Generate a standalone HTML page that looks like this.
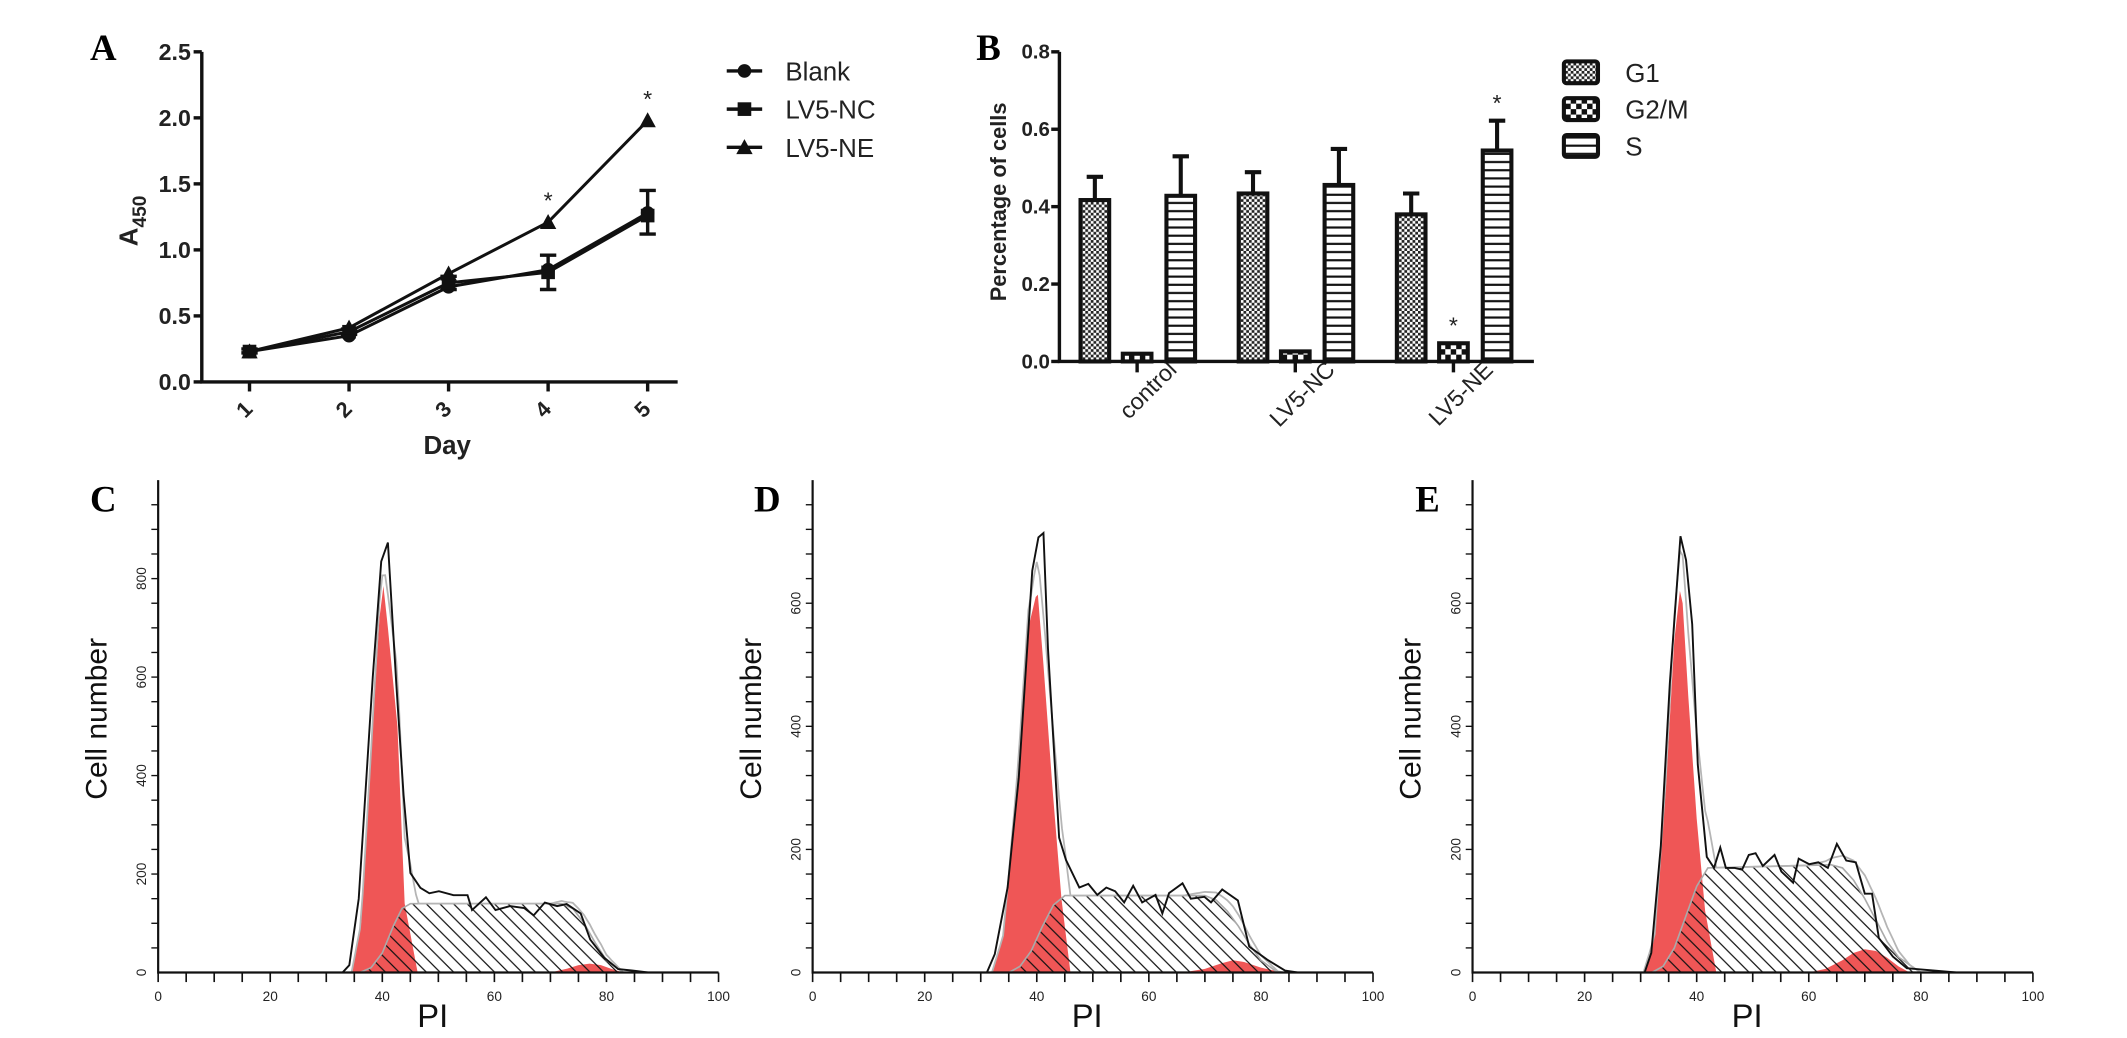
<!DOCTYPE html>
<html><head><meta charset="utf-8"><style>
html,body{margin:0;padding:0;background:#fff}
svg{display:block}
text{font-family:"Liberation Sans",Arial,sans-serif}
.pl{font-family:"Liberation Serif",serif;font-weight:bold;font-size:27px}
</style></head><body>
<svg id="fig" xmlns="http://www.w3.org/2000/svg" width="2127" height="1038" viewBox="0 0 1560 761" preserveAspectRatio="none">
<defs>
<pattern id="pG1" width="4" height="4" patternUnits="userSpaceOnUse"><rect width="4" height="4" fill="#fff"/><rect width="2" height="2" fill="#222"/><rect x="2" y="2" width="2" height="2" fill="#222"/></pattern>
<pattern id="pG2" width="8" height="8" patternUnits="userSpaceOnUse"><rect width="8" height="8" fill="#fff"/><rect width="4" height="4" fill="#111"/><rect x="4" y="4" width="4" height="4" fill="#111"/></pattern>
<pattern id="pS" width="6" height="6" patternUnits="userSpaceOnUse"><rect width="6" height="6" fill="#fff"/><rect y="4" width="6" height="1.6" fill="#111"/></pattern>
<pattern id="hatch" width="10" height="10" patternUnits="userSpaceOnUse"><path d="M-2,-2 L12,12 M-2,8 L2,12 M8,-2 L12,2" stroke="#111" stroke-width="0.9"/></pattern>
</defs>
<text class="pl" x="66" y="44">A</text>
<text class="pl" x="716" y="44">B</text>
<text class="pl" x="66" y="375">C</text>
<text class="pl" x="553" y="375">D</text>
<text class="pl" x="1038" y="375">E</text>
<g id="pa"></g>
<g id="pb"></g>
<g id="pc"></g>
<g id="pd"></g>
<g id="pe"></g>
</svg>
<script>
// ---- Panel A data ----
const days = [1,2,3,4,5];
const aTicks = ["0.0","0.5","1.0","1.5","2.0","2.5"];
const blank = [0.23,0.35,0.72,0.85,1.28];
const lv5nc = [0.23,0.38,0.75,0.83,1.26];
const lv5ne = [0.23,0.41,0.82,1.21,1.98];
const ncErrLo = [0.22,0.36,0.70,0.70,1.12];
const ncErrHi = [0.25,0.40,0.80,0.96,1.45];
const aStars = [4,5];
// ---- Panel B data ----
const groups = ["control","LV5-NC","LV5-NE"];
const phases = ["G1","G2/M","S"];
const g1Vals = [0.417,0.434,0.380];
const g2Vals = [0.020,0.026,0.047];
const sVals = [0.428,0.456,0.545];
const g1Err = [0.477,0.489,0.434];
const g2Err = [0.020,0.026,0.047];
const sErr = [0.530,0.549,0.622];
const bTicks = ["0.0","0.2","0.4","0.6","0.8"];
// ---- Panel C data ----
const cHistX = [0,32.9,34.1,35.8,38.3,39.8,41,42.5,43.8,45,46.8,48.4,50.1,52.7,55.2,56,58.5,60.2,62.8,65.3,67,69,71.2,72.9,75.4,77.1,79.6,82.1,84.7,87.6,100];
const cHistY = [0,0,15,150,600,835,873,584,360,202,172,161,165,157,157,127,153,127,135,131,116,142,135,139,120,67,30,7,4,0,0];
const cG1X = [34.5,36.2,38.3,39.5,40.2,41,42.7,44,46.3];
const cG1Y = [0,100,500,720,785,700,500,140,0];
const cSX = [36,38,40,42,43.5,45,72,74,76,78,80,83];
const cSY = [0,10,40,95,130,140,140,130,100,60,25,0];
const cG2X = [70,73,75,77,79,81,83];
const cG2Y = [0,8,15,18,15,7,0];
// ---- Panel D data ----
const dHistX = [0,31.1,32.5,34.8,36.8,39.2,40.3,41.2,42,44,45.2,47.6,49.2,50.8,52.4,54,55.6,57.2,58.8,61.2,62.4,63.6,66,67.5,69.9,71.1,73.1,75.9,77.9,81.1,84.3,86.7,100];
const dHistY = [0,0,30,138,317,653,707,714,527,219,183,138,144,126,138,132,114,141,114,126,96,129,145,120,123,114,135,117,42,21,3,0,0];
const dG1X = [32,34,36.4,38.5,39.8,40.2,41.2,42.8,44.4,46];
const dG1Y = [0,60,300,560,610,614,500,300,120,0];
const dSX = [35,37,39,41,43,45,70,72,74,76,78,80,83];
const dSY = [0,10,35,75,110,125,125,118,100,75,45,20,0];
const dG2X = [66,70,73,75,77,80,84];
const dG2Y = [0,6,15,20,17,8,0];
// ---- Panel E data ----
const eHistX = [0,30.7,31.9,33.6,35.2,37.1,38.1,39.2,40.2,41.8,43.1,44.2,45.2,46.8,48.1,49.3,50.5,51.8,53.9,55.1,57.2,58.2,60.1,61.7,63.4,65,66.7,68.4,70,71.3,72.5,75,77.5,80,82.4,86.6,100];
const eHistY = [0,0,32,206,470,709,670,566,338,188,170,203,170,170,167,191,194,173,191,164,146,185,176,179,170,209,182,179,128,128,56,26,7,5,3,0,0];
const eG1X = [30.5,32.5,34.5,36,37,37.5,38.5,40,41.5,43.5];
const eG1Y = [0,60,300,540,620,600,450,250,100,0];
const eSX = [32,34,36,38,40,42,64,66,68,70,72,74,76,80];
const eSY = [0,10,40,90,140,170,175,170,150,120,85,50,25,0];
const eG2X = [60,63,66,68,70,72,74,76,78];
const eG2Y = [0,6,20,32,38,35,24,10,0];
const histXTicks = ["0","20","40","60","80","100"];
const cYTicks = ["0","200","400","600","800"];
const deYTicks = ["0","200","400","600"];

const NS="http://www.w3.org/2000/svg";
function mk(parent, tag, attrs, txt){
  const e=document.createElementNS(NS,tag);
  for(const k in attrs) e.setAttribute(k,attrs[k]);
  if(txt!==undefined) e.textContent=txt;
  parent.appendChild(e); return e;
}

// ================= Panel A =================
(function(){
  const g=document.getElementById('pa');
  const xA=d=>183+(d-1)*73, yA=v=>280-v*96.8;
  let ax=mk(g,'path',{d:`M148,${yA(2.5)} L148,280 L497,280`,fill:'none',stroke:'#111','stroke-width':2.5});
   
  aTicks.forEach((t,i)=>{
    const v=parseFloat(t);
    mk(g,'line',{x1:142,x2:148,y1:yA(v),y2:yA(v),stroke:'#111','stroke-width':2.5});
    const tx=mk(g,'text',{x:140,y:yA(v)+6,'text-anchor':'end','font-size':17,'font-weight':'bold',fill:'#222'},t);
     
  });
  days.forEach(d=>{
    mk(g,'line',{x1:xA(d),x2:xA(d),y1:280,y2:287,stroke:'#111','stroke-width':2.5});
    const tx=mk(g,'text',{x:0,y:0,'text-anchor':'middle','font-size':16,'font-weight':'bold',fill:'#222',transform:`translate(${xA(d)},${304}) rotate(-45)`},String(d));
     
  });
  const xt=mk(g,'text',{x:328,y:333,'text-anchor':'middle','font-size':19,'font-weight':'bold',fill:'#222'},'Day');
   
  const yt=mk(g,'text',{x:0,y:0,'text-anchor':'middle','font-size':19,'font-weight':'bold',fill:'#222',transform:'translate(101,162) rotate(-90)'});
   
  mk(yt,'tspan',{},'A');
  mk(yt,'tspan',{'font-size':14,dy:6},'450');
  days.forEach((d,i)=>{
    const e=mk(g,'path',{d:`M${xA(d)},${yA(ncErrLo[i])} L${xA(d)},${yA(ncErrHi[i])} M${xA(d)-6},${yA(ncErrLo[i])} L${xA(d)+6},${yA(ncErrLo[i])} M${xA(d)-6},${yA(ncErrHi[i])} L${xA(d)+6},${yA(ncErrHi[i])}`,stroke:'#111','stroke-width':2.5,fill:'none'});
     
  });
  function marker(parent,type,x,y){
    if(type==='c') return mk(parent,'circle',{cx:x,cy:y,r:5,fill:'#111'});
    if(type==='s') return mk(parent,'rect',{x:x-5,y:y-5,width:10,height:10,fill:'#111'});
    return mk(parent,'path',{d:`M${x},${y-6} L${x+6},${y+5} L${x-6},${y+5} Z`,fill:'#111'});
  }
  const series=[[blank,'c','blank-line'],[lv5nc,'s','lv5-nc-line'],[lv5ne,'t','lv5-ne-line']];
  series.forEach(([vals,type,name])=>{
    const p=mk(g,'polyline',{points:vals.map((v,i)=>xA(days[i])+','+yA(v)).join(' '),fill:'none',stroke:'#111','stroke-width':2.2});
     
    vals.forEach((v,i)=>{const m=marker(g,type,xA(days[i]),yA(v));
       });
  });
  aStars.forEach(d=>{
    const i=days.indexOf(d);
    const s=mk(g,'text',{x:xA(d),y:yA(lv5ne[i])-10,'text-anchor':'middle','font-size':17,fill:'#222'},'*');
     
  });
  const leg=[['Blank','c'],['LV5-NC','s'],['LV5-NE','t']];
  leg.forEach(([lab,type],i)=>{
    const y=52+i*28;
    const lg=mk(g,'g',{});
     
    mk(lg,'line',{x1:533,x2:559,y1:y,y2:y,stroke:'#111','stroke-width':2.5});
    marker(lg,type,546,y);
    mk(lg,'text',{x:576,y:y+7,'font-size':19,fill:'#222'},lab);
  });
})();

// ================= Panel B =================
(function(){
  const g=document.getElementById('pb');
  const yB=v=>265-v*283.75;
  const ax=mk(g,'path',{d:`M777,${yB(0.8)} L777,265 L1125,265`,fill:'none',stroke:'#111','stroke-width':2.5});
   
  bTicks.forEach(t=>{
    const v=parseFloat(t);
    mk(g,'line',{x1:771,x2:777,y1:yB(v),y2:yB(v),stroke:'#111','stroke-width':2.5});
    const tx=mk(g,'text',{x:770,y:yB(v)+5,'text-anchor':'end','font-size':15,'font-weight':'bold',fill:'#222'},t);
     
  });
  const yt=mk(g,'text',{x:0,y:0,'text-anchor':'middle','font-size':16,'font-weight':'bold',fill:'#222',transform:'translate(738,148) rotate(-90)'},'Percentage of cells');
   
  const vals=[g1Vals,g2Vals,sVals], errs=[g1Err,g2Err,sErr], fills=['url(#pG1)','url(#pG2)','url(#pS)'];
  const offs=[-31,0,32], bw=21;
  groups.forEach((gr,i)=>{
    const gx=834+i*116;
    mk(g,'line',{x1:gx,x2:gx,y1:265,y2:273,stroke:'#111','stroke-width':2.5});
    const tx=mk(g,'text',{x:0,y:0,'text-anchor':'end','font-size':17,fill:'#222',transform:`translate(${gx+30},${272}) rotate(-45)`},gr);
     
    phases.forEach((ph,j)=>{
      const cx=gx+offs[j], v=vals[j][i], e=errs[j][i];
      if(e>v){
        const eb=mk(g,'path',{d:`M${cx},${yB(v)} L${cx},${yB(e)} M${cx-6},${yB(e)} L${cx+6},${yB(e)}`,stroke:'#111','stroke-width':3,fill:'none'});
         
      }
      const r=mk(g,'rect',{x:cx-bw/2,y:yB(v),width:bw,height:265-yB(v),fill:fills[j],stroke:'#111','stroke-width':3});
       
    });
  });
  [[1,2],[2,2]].forEach(([j,i])=>{
    const cx=834+i*116+offs[j];
    const s=mk(g,'text',{x:cx,y:yB(errs[j][i])-7,'text-anchor':'middle','font-size':17,fill:'#222'},'*');
     
  });
  phases.forEach((ph,j)=>{
    const y=53+j*27;
    const lg=mk(g,'g',{});
     
    mk(lg,'rect',{x:1147,y:y-8,width:25,height:16,rx:2,fill:fills[j],stroke:'#111','stroke-width':3});
    mk(lg,'text',{x:1192,y:y+7,'font-size':19,fill:'#222'},ph);
  });
})();

// ================= Histograms =================
function histo(id,x0,ymax,yticks,minorStep,hx,hy,g1x,g1y,sx,sy,g2x,g2y){
  const g=document.getElementById(id);
  const X=p=>x0+p*4.11, Y=v=>713-v/ymax*361;
  const path=(xs,ys)=>xs.map((p,i)=>(i?'L':'M')+X(p).toFixed(1)+','+Y(ys[i]).toFixed(1)).join(' ');
  const r1=mk(g,'path',{d:path(g1x,g1y)+' Z',fill:'#ef5656',stroke:'none'});
   
  const r2=mk(g,'path',{d:path(g2x,g2y)+' Z',fill:'#ef5656',stroke:'none'});
   
  const sp=mk(g,'path',{d:path(sx,sy)+' Z',fill:'url(#hatch)',stroke:'#aaa','stroke-width':1.2});
   
  const fx=[];
  for(let p=Math.min(g1x[0],sx[0]);p<=Math.max(sx[sx.length-1],g2x[g2x.length-1]);p+=0.5) fx.push(p);
  const interp=(xs,ys,p)=>{ if(p<=xs[0]||p>=xs[xs.length-1]) return 0;
    for(let i=1;i<xs.length;i++) if(p<=xs[i]){const t=(p-xs[i-1])/(xs[i]-xs[i-1]);return ys[i-1]+t*(ys[i]-ys[i-1]);} return 0;};
  const fy=fx.map(p=>interp(g1x,g1y,p)+interp(sx,sy,p)+interp(g2x,g2y,p));
  const fl=mk(g,'path',{d:path(fx,fy),fill:'none',stroke:'#b5b5b5','stroke-width':1.3});
   
  const hl=mk(g,'path',{d:path(hx,hy),fill:'none',stroke:'#111','stroke-width':1.4});
   
  const ax=mk(g,'path',{d:`M${x0},352 L${x0},713 L${X(100)},713`,fill:'none',stroke:'#111','stroke-width':1.6});
   
  for(let p=0;p<=100;p+=5) mk(g,'line',{x1:X(p),x2:X(p),y1:713,y2:720,stroke:'#111','stroke-width':1.2});
  for(let v=minorStep;v<ymax;v+=minorStep) mk(g,'line',{x1:x0-5,x2:x0,y1:Y(v),y2:Y(v),stroke:'#111','stroke-width':1});
  histXTicks.forEach(t=>{
    const tx=mk(g,'text',{x:X(+t),y:734,'text-anchor':'middle','font-size':10,fill:'#222'},t);
     
  });
  yticks.forEach(t=>{
    const tx=mk(g,'text',{x:0,y:0,'text-anchor':'middle','font-size':10,fill:'#222',transform:`translate(${x0-9},${Y(+t)}) rotate(-90)`},t);
     
  });
  const xt=mk(g,'text',{x:X(49),y:753,'text-anchor':'middle','font-size':24,fill:'#111'},'PI');
   
  const yt=mk(g,'text',{x:0,y:0,'text-anchor':'middle','font-size':22,fill:'#111',transform:`translate(${x0-38},${527}) rotate(-90)`},'Cell number');
   
}
histo('pc',116,1000,cYTicks,50,cHistX,cHistY,cG1X,cG1Y,cSX,cSY,cG2X,cG2Y);
histo('pd',596,800,deYTicks,40,dHistX,dHistY,dG1X,dG1Y,dSX,dSY,dG2X,dG2Y);
histo('pe',1080,800,deYTicks,40,eHistX,eHistY,eG1X,eG1Y,eSX,eSY,eG2X,eG2Y);
</script>
</body></html>
